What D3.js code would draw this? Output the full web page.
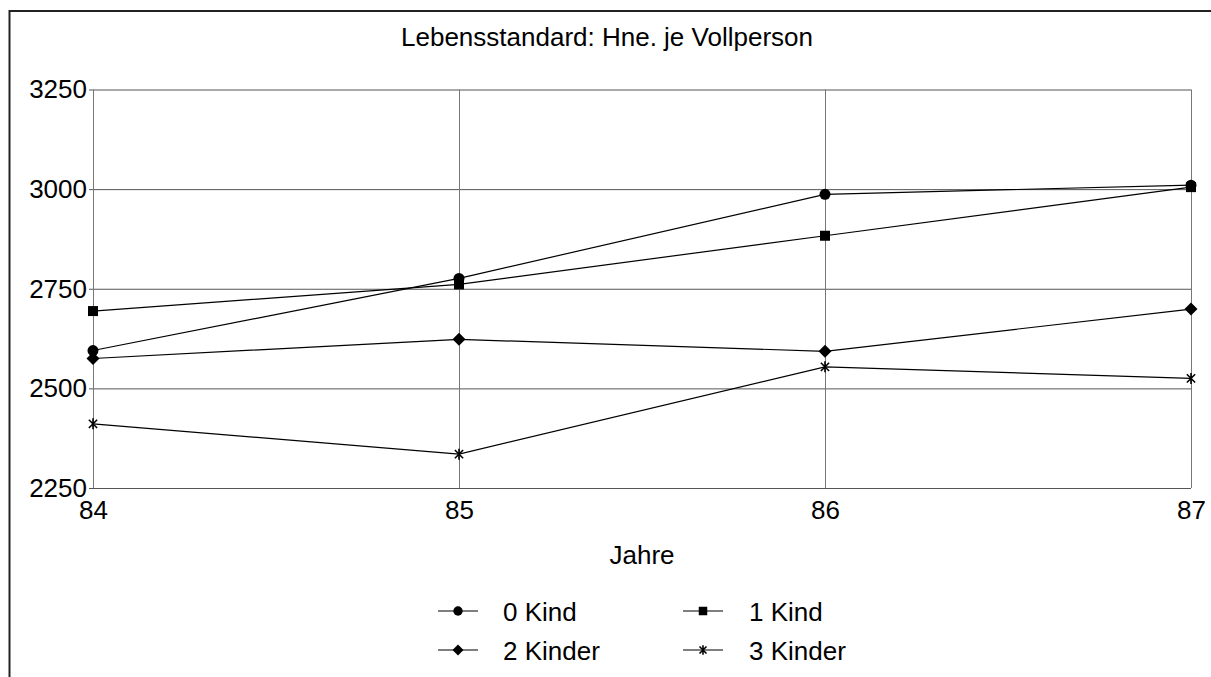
<!DOCTYPE html>
<html>
<head>
<meta charset="utf-8">
<script src="https://cdn.jsdelivr.net/npm/d3@7"></script>
<style>
  body { margin: 0; background: #fff; }
  svg text { font-family: "Liberation Sans", Arial, sans-serif; fill: #000; }
</style>
</head>
<body>
<div class="chart"></div>
<script>
// data
var years = ["84", "85", "86", "87"];
var kind0 = [2595, 2776, 2987, 3010];
var kind1 = [2694, 2761, 2883, 3005];
var kinder2 = [2575, 2623, 2593, 2699];
var kinder3 = [2411, 2335, 2554, 2525];
var seriesNames = ["0 Kind", "1 Kind", "2 Kinder", "3 Kinder"];
var yTicks = [2250, 2500, 2750, 3000, 3250];

var svgWidth = 1211, svgHeight = 677;
var plotLeft = 93, plotRight = 1191, plotTop = 89.5, plotBottom = 488;
var fontSize = 26;

var svg = d3.select(".chart").append("svg")
  .attr("width", svgWidth).attr("height", svgHeight);

// frame (only top and left edge visible)
svg.append("path")
  .attr("d", "M9.5,677 L9.5,11 L1211,11")
  .attr("fill", "none").attr("stroke", "#222").attr("stroke-width", 2);

var x = d3.scalePoint().domain(years).range([plotLeft, plotRight]);
var y = d3.scaleLinear().domain([2250, 3250]).range([plotBottom, plotTop]);

// horizontal grid
svg.append("g").attr("transform", "translate(" + plotLeft + ",0)")
  .call(d3.axisLeft(y).tickValues(yTicks).tickSize(-(plotRight - plotLeft)).tickFormat(""))
  .call(function (g) {
    g.select(".domain").remove();
    g.selectAll("line").attr("stroke", "#555");
  });

// vertical grid
svg.append("g").attr("transform", "translate(0," + plotBottom + ")")
  .call(d3.axisBottom(x).tickSize(-(plotBottom - plotTop)).tickFormat(""))
  .call(function (g) {
    g.select(".domain").remove();
    g.selectAll("line").attr("stroke", "#777");
  });

// y axis labels + little ticks
svg.append("g").attr("transform", "translate(" + plotLeft + ",0)")
  .call(d3.axisLeft(y).tickValues(yTicks).tickFormat(d3.format("d")).tickSize(4).tickPadding(2))
  .call(function (g) {
    g.select(".domain").remove();
    g.selectAll("line").attr("stroke", "#555");
    g.selectAll("text").attr("font-size", fontSize).attr("font-family", null);
  });

// x axis labels
svg.append("g").attr("transform", "translate(0," + plotBottom + ")")
  .call(d3.axisBottom(x).tickSize(0).tickPadding(13))
  .call(function (g) {
    g.select(".domain").remove();
    g.selectAll("text").attr("font-size", fontSize).attr("font-family", null);
  });

// title and axis title
svg.append("text").attr("x", 607).attr("y", 46).attr("text-anchor", "middle")
  .attr("font-size", fontSize).text("Lebensstandard: Hne. je Vollperson");
svg.append("text").attr("x", 642).attr("y", 564).attr("text-anchor", "middle")
  .attr("font-size", fontSize).text("Jahre");

// markers
function drawMarker(g, type, px, py, scale) {
  scale = scale || 1;
  var p;
  if (type === "star") {
    var r = 5.5 * scale;
    var d = r * 0.75;
    g.append("path")
      .attr("d", "M" + px + "," + (py - r) + "L" + px + "," + (py + r) +
        "M" + (px - d) + "," + (py - d) + "L" + (px + d) + "," + (py + d) +
        "M" + (px - d) + "," + (py + d) + "L" + (px + d) + "," + (py - d))
      .attr("stroke", "#000").attr("stroke-width", 1.6);
    return;
  }
  if (type === "circle") {
    g.append("circle").attr("cx", px).attr("cy", py).attr("r", 5.5 * scale).attr("fill", "#000");
    return;
  }
  if (type === "square") {
    var h = 5 * scale;
    p = [[px - h, py - h], [px + h, py - h], [px + h, py + h], [px - h, py + h]];
  } else {
    var r2 = 6.5 * scale;
    p = [[px, py - r2], [px + r2, py], [px, py + r2], [px - r2, py]];
  }
  g.append("path").attr("d", "M" + p.join("L") + "Z").attr("fill", "#000");
}

var series = [
  { name: seriesNames[0], values: kind0, marker: "circle" },
  { name: seriesNames[1], values: kind1, marker: "square" },
  { name: seriesNames[2], values: kinder2, marker: "diamond" },
  { name: seriesNames[3], values: kinder3, marker: "star" }
];

var line = d3.line()
  .x(function (d, i) { return x(years[i]); })
  .y(function (d) { return y(d); });

series.forEach(function (s) {
  var g = svg.append("g");
  g.append("path").attr("d", line(s.values))
    .attr("fill", "none").attr("stroke", "#000").attr("stroke-width", 1.2);
  s.values.forEach(function (v, i) {
    drawMarker(g, s.marker, x(years[i]), y(v));
  });
});

// legend
var legendPos = [
  { lx: 438, ly: 611, tx: 503 },
  { lx: 683, ly: 611, tx: 749 },
  { lx: 438, ly: 650, tx: 503 },
  { lx: 683, ly: 650, tx: 749 }
];
series.forEach(function (s, i) {
  var p = legendPos[i];
  var g = svg.append("g");
  g.append("line").attr("x1", p.lx).attr("x2", p.lx + 40)
    .attr("y1", p.ly).attr("y2", p.ly).attr("stroke", "#000").attr("stroke-width", 1.2);
  drawMarker(g, s.marker, p.lx + 20, p.ly, 0.85);
  g.append("text").attr("x", p.tx).attr("y", p.ly + 10)
    .attr("font-size", fontSize).text(s.name);
});
</script>
</body>
</html>
